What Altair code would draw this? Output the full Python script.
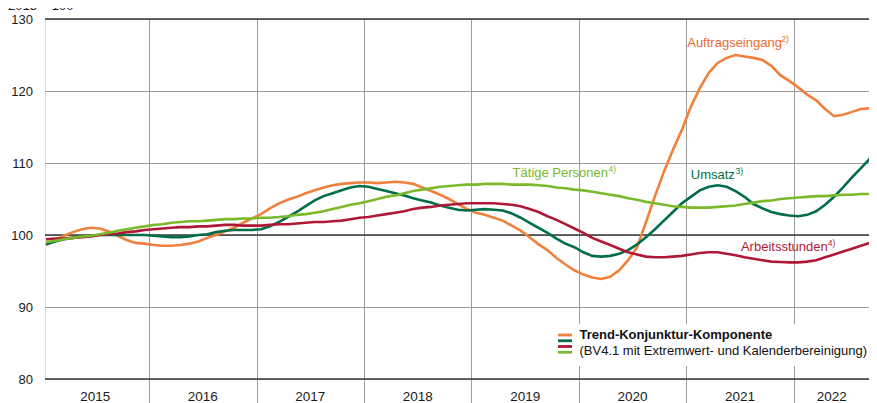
import altair as alt
import pandas as pd

# Monthly trend values, Jan 2015 (t=0) .. Oct 2022 (t=93); 2015 = 100
auftragseingang = [
    98.6, 99.3, 99.9, 100.4, 100.8, 101.0, 100.9, 100.5, 99.9, 99.3, 98.9, 98.8,
    98.6, 98.5, 98.5, 98.6, 98.8, 99.1, 99.6, 100.0, 100.5, 101.0, 101.7, 102.3,
    102.9, 103.7, 104.4, 104.9, 105.3, 105.8, 106.2, 106.6, 106.9, 107.1, 107.2, 107.3,
    107.3, 107.2, 107.3, 107.4, 107.3, 107.1, 106.6, 106.1, 105.6, 105.0, 104.3, 103.6,
    103.1, 102.8, 102.4, 102.0, 101.3, 100.6, 99.7, 98.7, 97.9, 96.8, 95.9, 95.1,
    94.5, 94.1, 93.9, 94.2, 95.1, 96.5, 98.3, 101.8, 105.4, 108.8, 111.8, 114.6,
    117.8, 120.4, 122.5, 123.9, 124.6, 125.0, 124.8, 124.6, 124.3, 123.5, 122.2, 121.4,
    120.5, 119.5, 118.7, 117.5, 116.5, 116.7, 117.1, 117.5, 117.6, 117.6,
]
umsatz = [
    98.7, 99.1, 99.4, 99.6, 99.8, 99.9, 100.0, 100.0, 100.0, 100.0, 100.0, 100.0,
    99.9, 99.8, 99.7, 99.7, 99.8, 100.0, 100.1, 100.4, 100.6, 100.7, 100.7, 100.7,
    100.8, 101.2, 101.8, 102.5, 103.2, 104.0, 104.8, 105.4, 105.8, 106.2, 106.6, 106.8,
    106.7, 106.4, 106.1, 105.8, 105.5, 105.1, 104.8, 104.5, 104.1, 103.8, 103.5, 103.4,
    103.5, 103.6, 103.5, 103.4, 103.0, 102.4, 101.7, 101.0, 100.3, 99.5, 98.8, 98.3,
    97.6, 97.1, 97.0, 97.1, 97.4, 97.9, 98.7, 99.7, 100.8, 102.0, 103.2, 104.4,
    105.3, 106.2, 106.7, 106.9, 106.7, 106.1, 105.3, 104.3, 103.7, 103.2, 102.9, 102.7,
    102.6, 102.8, 103.3, 104.2, 105.3, 106.6, 108.0, 109.3, 110.6, 111.8,
]
arbeitsstunden = [
    99.4, 99.5, 99.5, 99.6, 99.7, 99.8, 100.0, 100.1, 100.2, 100.4, 100.5, 100.7,
    100.8, 100.9, 101.0, 101.1, 101.1, 101.2, 101.2, 101.3, 101.4, 101.4, 101.3, 101.3,
    101.3, 101.4, 101.5, 101.5, 101.6, 101.7, 101.8, 101.8, 101.9, 102.0, 102.2, 102.4,
    102.5, 102.7, 102.9, 103.1, 103.3, 103.6, 103.8, 103.9, 104.1, 104.2, 104.3, 104.4,
    104.4, 104.4, 104.4, 104.3, 104.2, 104.0, 103.6, 103.2, 102.6, 102.1, 101.5, 100.9,
    100.3, 99.6, 99.1, 98.6, 98.1, 97.6, 97.3, 97.0, 96.9, 96.9, 97.0, 97.1,
    97.3, 97.5, 97.6, 97.6, 97.4, 97.2, 96.9, 96.7, 96.5, 96.3, 96.25, 96.2,
    96.2, 96.3, 96.5, 96.9, 97.3, 97.7, 98.1, 98.5, 98.9, 99.2,
]
taetige_personen = [
    99.0, 99.2, 99.4, 99.6, 99.8, 99.9, 100.1, 100.3, 100.6, 100.8, 101.0, 101.2,
    101.4, 101.5, 101.7, 101.8, 101.9, 101.9, 102.0, 102.1, 102.2, 102.2, 102.3, 102.3,
    102.4, 102.4, 102.5, 102.6, 102.8, 102.9, 103.1, 103.3, 103.6, 103.9, 104.2, 104.4,
    104.7, 105.0, 105.3, 105.5, 105.8, 106.1, 106.3, 106.5, 106.7, 106.8, 106.9, 107.0,
    107.0, 107.1, 107.1, 107.1, 107.0, 107.0, 107.0, 106.9, 106.8, 106.6, 106.5, 106.3,
    106.2, 106.0, 105.8, 105.6, 105.4, 105.1, 104.9, 104.6, 104.4, 104.2, 104.0, 103.9,
    103.8, 103.8, 103.8, 103.9, 104.0, 104.1, 104.3, 104.5, 104.7, 104.8, 105.0, 105.1,
    105.2, 105.3, 105.4, 105.4, 105.5, 105.6, 105.6, 105.7, 105.7, 105.7,
]

years = [2015, 2016, 2017, 2018, 2019, 2020, 2021, 2022]
y_ticks = [80, 90, 100, 110, 120, 130]
dark_lines = [80, 100, 130]

series_names = ["Auftragseingang", "Umsatz", "Arbeitsstunden", "Tätige Personen"]
series_colors = ["#F0803C", "#006E46", "#AF1937", "#7AB929"]
label_colors = ["#EA6A30", "#006E46", "#AF1937", "#7AB929"]
footnotes = ["2)", "3)", "4)", "4)"]
# label anchor (month index of text start, value at baseline) and footnote start
label_t = [71.6, 72.0, 77.6, 52.1]
label_v = [126.1, 107.8, 97.8, 108.1]
note_t = [82.1, 77.0, 87.3, 62.8]

FONT = "Liberation Sans, Arial, Helvetica, sans-serif"
X_DOMAIN = [-0.12, 91.9]
LAST_DATA_MONTH = 92

series_values = [auftragseingang, umsatz, arbeitsstunden, taetige_personen]
frames = []
for name, vals in zip(series_names, series_values):
    frames.append(pd.DataFrame({"t": list(range(len(vals))), "v": vals, "s": name}))

year_starts = [12 * i - 0.5 for i in range(1, len(years))]
year_mid = []
for i, yv in enumerate(years):
    start = 12 * i - 0.5
    end = min(start + 12, LAST_DATA_MONTH)
    year_mid.append((start + end) / 2)
years_df = pd.DataFrame({"t": year_mid, "label": [str(y) for y in years]})

labels_df = pd.DataFrame({
    "t": label_t, "v": label_v, "text": series_names, "color": label_colors,
    "nt": note_t, "note": footnotes,
})

xscale = alt.Scale(domain=X_DOMAIN, nice=False, zero=False)
yscale = alt.Scale(domain=[80, 130], nice=False, zero=False)

GRID = "#9c9c9c"
X_AX = alt.Axis(
    values=year_starts, labels=False, title=None, domain=False, ticks=True,
    tickSize=24, tickColor=GRID, tickWidth=1, grid=True, gridColor=GRID, gridWidth=1,
    gridOpacity=1)
Y_AX = alt.Axis(
    values=y_ticks, title=None, domain=False, ticks=False, labelPadding=12.5,
    labelFontSize=13, labelFont=FONT, labelColor="#1a1a1a", grid=True,
    gridColor=GRID, gridWidth=1, gridOpacity=1)


def X(field):
    return alt.X(field, scale=xscale, axis=X_AX)


def Y(field):
    return alt.Y(field, scale=yscale, axis=Y_AX)


dark_rules = alt.Chart(pd.DataFrame({"v": dark_lines})).mark_rule(
    color="#3a3a3a", strokeWidth=1.4).encode(y=Y("v:Q"))

layers = [dark_rules]
for df, col in zip(frames, series_colors):
    layers.append(
        alt.Chart(df).mark_line(color=col, strokeWidth=2.6, clip=True).encode(
            x=X("t:Q"), y=Y("v:Q"))
    )

labels = alt.Chart(labels_df).mark_text(
    align="left", baseline="alphabetic", fontSize=13, font=FONT).encode(
    x=X("t:Q"), y=Y("v:Q"),
    text="text:N",
    color=alt.Color("color:N", scale=None),
)
notes = alt.Chart(labels_df).mark_text(
    align="left", baseline="alphabetic", fontSize=8.5, font=FONT, dy=-5).encode(
    x=X("nt:Q"), y=Y("v:Q"),
    text="note:N",
    color=alt.Color("color:N", scale=None),
)

year_labels = alt.Chart(years_df).mark_text(
    align="center", baseline="alphabetic", fontSize=13.5, font=FONT, color="#1a1a1a").encode(
    x=X("t:Q"),
    y=alt.value(381.5),
    text="label:N",
)

# legend box
legend_bg = alt.Chart(pd.DataFrame({"a": [0]})).mark_rect(color="white").encode(
    x=alt.value(508), x2=alt.value(824), y=alt.value(305), y2=alt.value(347))
legend_parts = [legend_bg]
for i, col in enumerate(series_colors):
    legend_parts.append(
        alt.Chart(pd.DataFrame({"a": [0]})).mark_rule(color=col, strokeWidth=2.8).encode(
            x=alt.value(513), x2=alt.value(527), y=alt.value(316 + 5.75 * i))
    )
legend_parts.append(
    alt.Chart(pd.DataFrame({"a": [0]})).mark_text(
        align="left", baseline="alphabetic", fontSize=13, font=FONT, fontWeight="bold",
        color="#111").encode(x=alt.value(534.5), y=alt.value(319.5),
                             text=alt.value("Trend-Konjunktur-Komponente"))
)
legend_parts.append(
    alt.Chart(pd.DataFrame({"a": [0]})).mark_text(
        align="left", baseline="alphabetic", fontSize=13, font=FONT,
        color="#111").encode(x=alt.value(534.5), y=alt.value(335.5),
                             text=alt.value("(BV4.1 mit Extremwert- und Kalenderbereinigung)"))
)

unit_title = alt.Chart(pd.DataFrame({"a": [0]})).mark_text(
    align="left", baseline="alphabetic", fontSize=13, font=FONT, color="#1a1a1a").encode(
    x=alt.value(-37), y=alt.value(-9), text=alt.value("2015 = 100"))

chart = alt.layer(*layers, labels, notes, year_labels, *legend_parts, unit_title).properties(
    width=824, height=360,
    autosize=alt.AutoSizeParams(type="none"),
    padding={"left": 37, "top": 11, "right": 0, "bottom": 24},
).configure_view(stroke=None).configure(background="white")

chart.save("out.html", embed_options={"renderer": "svg", "actions": False})
